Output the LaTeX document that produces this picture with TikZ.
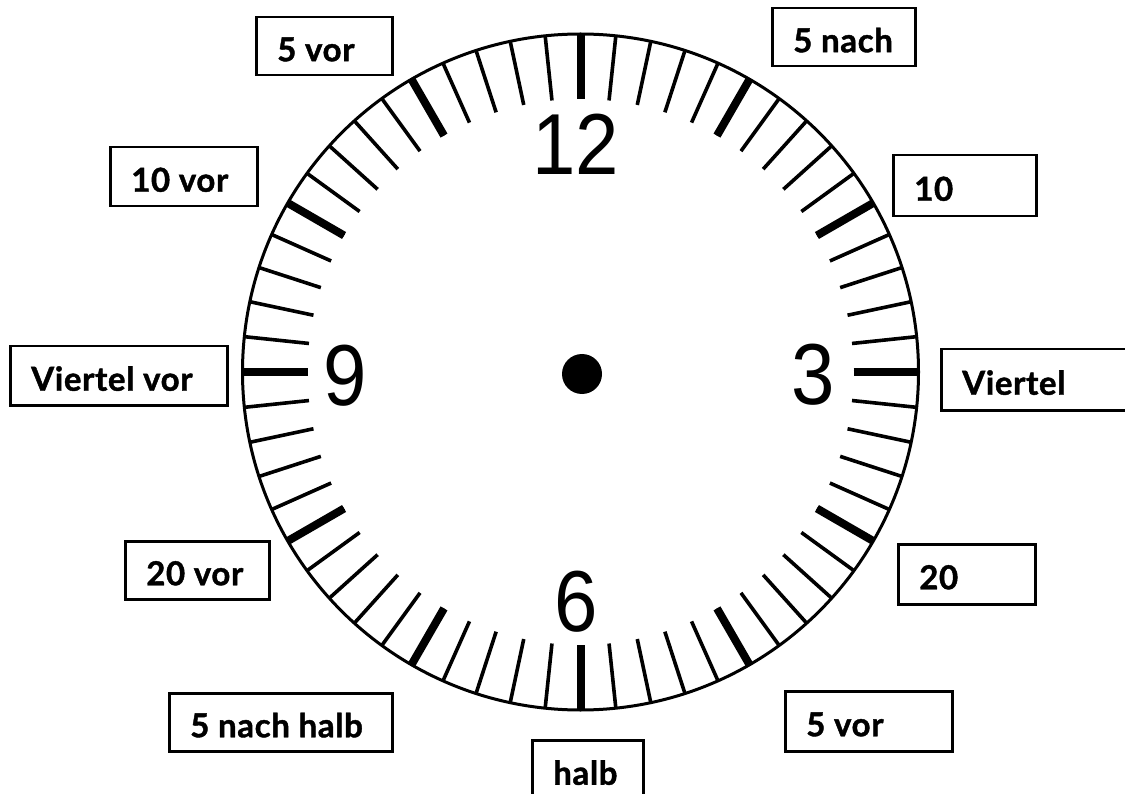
\documentclass[tikz,border=0pt]{standalone}
\usepackage{fontspec}
\newfontfamily\lblfont[LetterSpace=2.0, BoldFeatures={FakeBold=1.3}]{Lato}
\newfontfamily\digfont{Liberation Sans}
\newcommand\lblbox[2]{\makebox[#1pt][l]{#2}}
\begin{document}
\begin{tikzpicture}[x=1pt,y=-1pt,
  box/.style={draw, line width=2.5pt, inner xsep=21pt, inner ysep=0pt,
    text height=30pt, text depth=0pt, anchor=north west,
    font=\lblfont\bfseries\fontsize{33}{36}\selectfont},
  minortick/.style={line width=3.6pt},
  majortick/.style={line width=8pt},
  digit/.style={font=\digfont\fontsize{86.6}{90}\selectfont, inner sep=0pt, anchor=base}]
\useasboundingbox (0,0) rectangle (1125,794);

% clock face
\coordinate (c) at (580.5,372);
\draw[line width=3pt] (c) circle[radius=338];
\foreach \a in {0,6,...,354}
  \draw[minortick, shift={(c)}] (\a:273) -- (\a:338);
\foreach \a in {0,30,...,330}
  \draw[majortick, shift={(c)}] (\a:273) -- (\a:338);
\node[circle, fill, minimum size=40pt, inner sep=0pt] (hub) at (582,374) {};

% numerals
\node[digit] (d12) at (576,175) {\scalebox{0.9}[1]{12}};
\node[digit] (d3) at (813,405) {\scalebox{0.9}[1]{3}};
\node[digit] (d6) at (576.5,631) {\scalebox{0.9}[1]{6}};
\node[digit] (d9) at (345.5,406) {\scalebox{0.9}[1]{9}};

% labels
\node[box, minimum height=58pt] (l1) at (255,16) {\lblbox{94}{5 vor}};
\node[box, minimum height=59pt] (l2) at (109,146) {\lblbox{105}{10 vor}};
\node[box, minimum height=58pt] (l3) at (771,7) {\lblbox{101}{5 nach}};
\node[box, minimum height=61pt] (l4) at (892,154) {\lblbox{101}{10}};
\node[box, minimum height=59pt] (l5) at (9,345) {\lblbox{175}{Viertel vor}};
\node[box, minimum height=61pt] (l6) at (940,348) {\lblbox{158}{Viertel}};
\node[box, minimum height=58pt] (l7) at (124,540) {\lblbox{102}{20 vor}};
\node[box, minimum height=60pt] (l8) at (897,543) {\lblbox{95}{20}};
\node[box, minimum height=58pt] (l9) at (168,692) {\lblbox{181}{5 nach halb}};
\node[box, minimum height=60pt] (l10) at (784,690) {\lblbox{125}{5 vor}};
\node[box, minimum height=59pt] (l11) at (531,739) {\lblbox{69}{halb}};
\end{tikzpicture}
\end{document}
